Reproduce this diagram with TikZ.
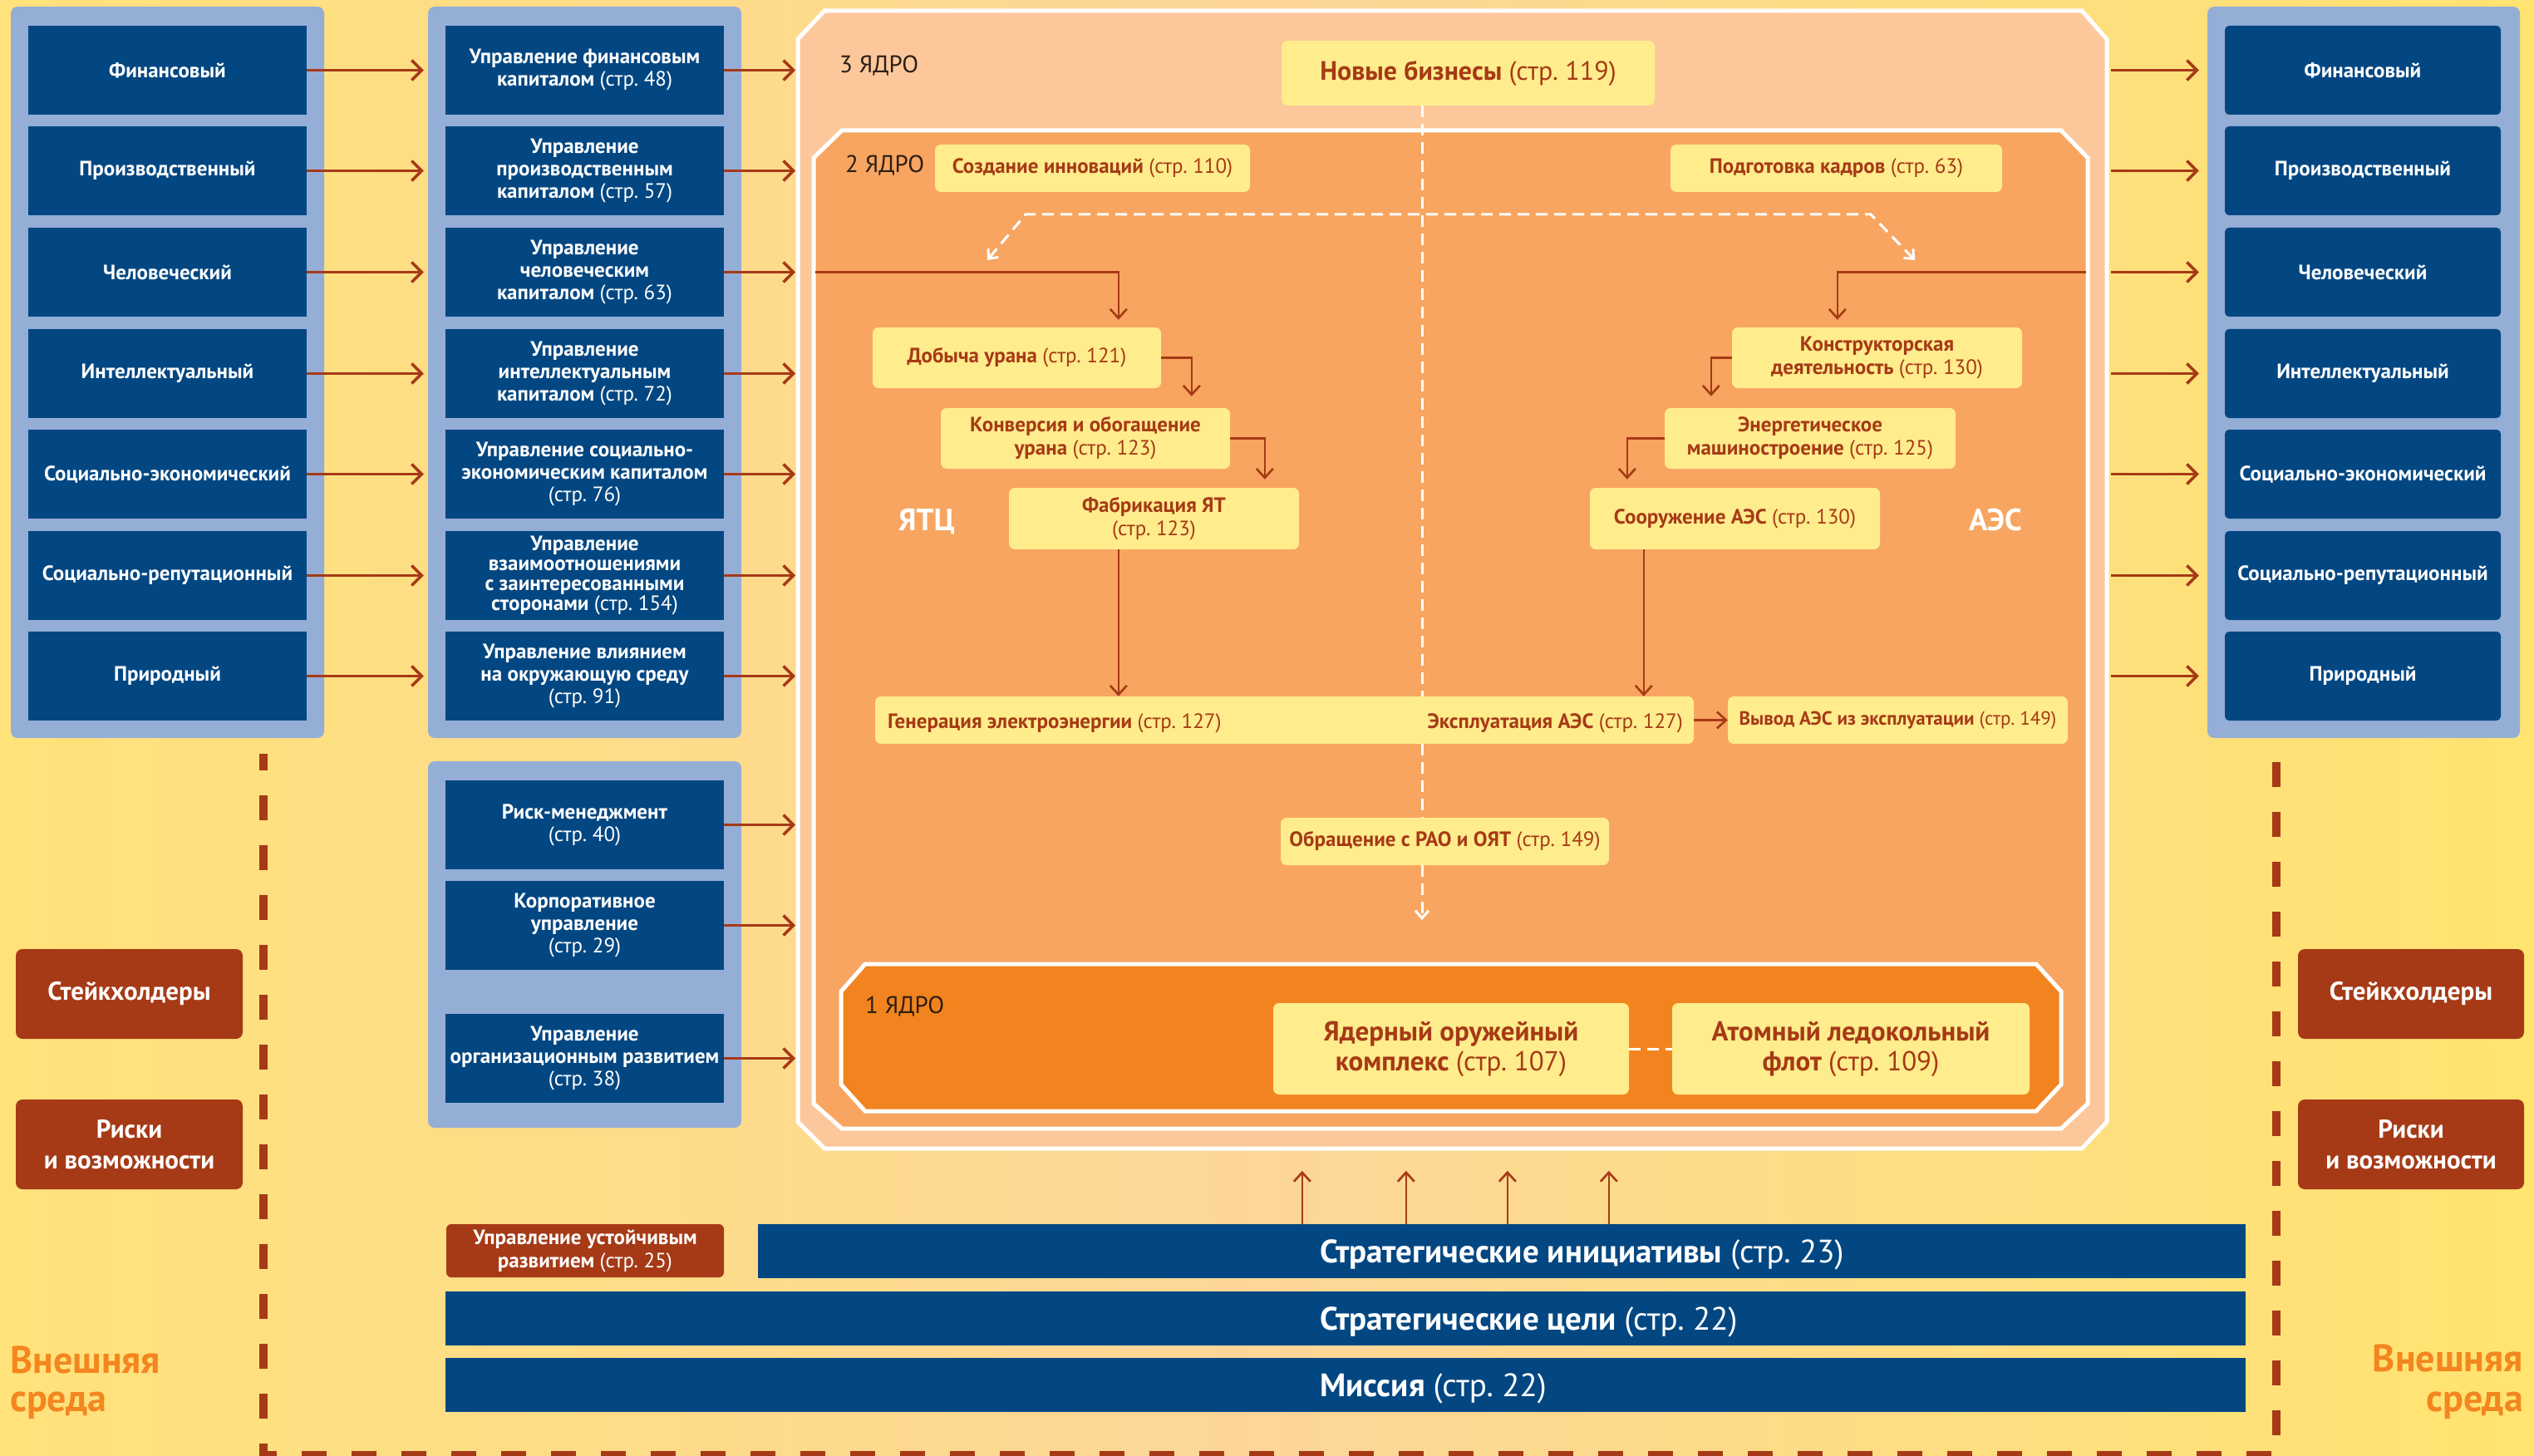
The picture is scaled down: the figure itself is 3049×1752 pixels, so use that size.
\documentclass[tikz,border=0pt]{standalone}
\usepackage{fontspec}
\setmainfont{PT Sans}
\usetikzlibrary{arrows.meta,calc}
\definecolor{navy}{RGB}{3,71,130}
\definecolor{pblue}{RGB}{149,174,214}
\definecolor{brn}{RGB}{166,58,22}
\definecolor{ybox}{RGB}{255,236,141}
\definecolor{core3c}{RGB}{252,200,155}
\definecolor{core2c}{RGB}{247,165,96}
\definecolor{core1c}{RGB}{242,132,31}
\definecolor{orng}{RGB}{244,134,31}
\definecolor{bgy}{RGB}{255,226,122}
\definecolor{bgyr}{RGB}{255,228,112}
\definecolor{bgp}{RGB}{253,214,152}
\definecolor{dtxt}{RGB}{45,30,20}
\newcommand\pgno[1]{\textmd{(стр.~#1)}}
\begin{document}
\begin{tikzpicture}[x=1pt,y=-1pt,
  navybox/.style={fill=navy,text=white,font=\fontsize{25}{27}\selectfont\bfseries,minimum width=335pt,minimum height=107pt,inner sep=0pt,align=center},
  navyr/.style={navybox,minimum width=332pt,rounded corners=5pt},
  ybx/.style={fill=ybox,text=brn,rounded corners=7pt,inner sep=0pt,align=center,font=\fontsize{25}{28}\selectfont\bfseries},
  brnbox/.style={fill=brn,text=white,rounded corners=8pt,inner sep=0pt,align=center,font=\fontsize{31}{37}\selectfont\bfseries,minimum width=273pt,minimum height=108pt},
  bar/.style={fill=navy,inner sep=0pt},
  bartxt/.style={text=white,inner sep=0pt,anchor=base west,font=\fontsize{39}{44}\selectfont\bfseries},
  corelbl/.style={text=dtxt,inner sep=0pt,anchor=base west,font=\fontsize{29}{32}\selectfont},
  extxt/.style={text=orng,font=\fontsize{46}{50}\selectfont\bfseries,inner sep=0pt},
  arr/.style={draw=brn,line width=3.5pt,-{Straight Barb[length=12pt,width=24pt]}},
  arrin/.style={draw=brn,line width=2.6pt,-{Straight Barb[length=11pt,width=20pt]}},
  wdash/.style={draw=white,line width=3pt,dash pattern=on 14pt off 8pt},
  wtip/.tip={Straight Barb[length=9pt,width=16pt]},
  octa/.style={draw=white,line width=5pt,line join=miter}
]
\useasboundingbox (0,0) rectangle (3049,1752);
\shade[left color=bgy,right color=bgyr,middle color=bgp] (0,0) rectangle (3049,1752);

% outer dashed frame
\draw[brn,line width=10pt,dash pattern=on 30pt off 30pt,dash phase=10pt] (317,907) -- (317,1751) -- (2739,1751) -- (2739,907);

% panels
\fill[pblue,rounded corners=8pt] (13,8) rectangle (390,888);
\fill[pblue,rounded corners=8pt] (515,8) rectangle (892,888);
\fill[pblue,rounded corners=8pt] (515,916) rectangle (892,1357);
\fill[pblue,rounded corners=8pt] (2656,8) rectangle (3032,888);

% cores
\draw[octa,fill=core3c] (992,13) -- (2505,13) -- (2535,47) -- (2535,1350) -- (2505,1382) -- (992,1382) -- (960,1350) -- (960,47) -- cycle;
\draw[octa,fill=core2c] (1013,157) -- (2480,157) -- (2512,190) -- (2512,1328) -- (2480,1358) -- (1013,1358) -- (979,1328) -- (979,190) -- cycle;
\draw[octa,fill=core1c] (1041,1160) -- (2450,1160) -- (2480,1193) -- (2480,1305) -- (2450,1337) -- (1041,1337) -- (1012,1305) -- (1012,1193) -- cycle;
\coordinate (c3L) at (957,0);
\coordinate (c3R) at (2540,0);
\coordinate (c2L) at (981,0);
\coordinate (c2R) at (2510,0);
\coordinate (vx) at (1711,0);

\node[corelbl] (k3) at (1010,88) {3 ЯДРО};
\node[corelbl] (k2) at (1017,208) {2 ЯДРО};
\node[corelbl] (k1) at (1041,1219) {1 ЯДРО};

% left column
\node[navybox] (L1) at (201.5,84.5) {Финансовый};
\node[navybox] (L2) at (201.5,205.5) {Производственный};
\node[navybox] (L3) at (201.5,327.5) {Человеческий};
\node[navybox] (L4) at (201.5,449.5) {Интеллектуальный};
\node[navybox] (L5) at (201.5,570.5) {Социально-экономический};
\node[navybox] (L6) at (201.5,692.5) {Социально-репутационный};
\node[navybox] (L7) at (201.5,813.5) {Природный};

% middle column
\node[navybox] (M1) at (703.5,84.5) {Управление финансовым\\капиталом \pgno{48}};
\node[navybox] (M2) at (703.5,205.5) {Управление\\производственным\\капиталом \pgno{57}};
\node[navybox] (M3) at (703.5,327.5) {Управление\\человеческим\\капиталом \pgno{63}};
\node[navybox] (M4) at (703.5,449.5) {Управление\\интеллектуальным\\капиталом \pgno{72}};
\node[navybox] (M5) at (703.5,570.5) {Управление социально-\\экономическим капиталом\\\pgno{76}};
\node[navybox,font=\fontsize{25}{24}\selectfont\bfseries] (M6) at (703.5,692.5) {Управление\\взаимоотношениями\\с заинтересованными\\сторонами \pgno{154}};
\node[navybox] (M7) at (703.5,813.5) {Управление влиянием\\на окружающую среду\\\pgno{91}};

% lower middle
\node[navybox] (Q1) at (703.5,992.5) {Риск-менеджмент\\\pgno{40}};
\node[navybox] (Q2) at (703.5,1113.5) {Корпоративное\\управление\\\pgno{29}};
\node[navybox] (Q3) at (703.5,1273.5) {Управление\\организационным развитием\\\pgno{38}};

% right column
\node[navyr] (P1) at (2843,84.5) {Финансовый};
\node[navyr] (P2) at (2843,205.5) {Производственный};
\node[navyr] (P3) at (2843,327.5) {Человеческий};
\node[navyr] (P4) at (2843,449.5) {Интеллектуальный};
\node[navyr] (P5) at (2843,570.5) {Социально-экономический};
\node[navyr] (P6) at (2843,692.5) {Социально-репутационный};
\node[navyr] (P7) at (2843,813.5) {Природный};

% arrows columns
\foreach \i in {1,...,7}{
  \draw[arr] (L\i.east) -- ([xshift=-26pt]M\i.west);
  \draw[arr] (M\i.east) -- (c3L |- M\i.east);
  \draw[arr] (c3R |- P\i.west) -- ([xshift=-31pt]P\i.west);
}
\foreach \i in {1,2,3}{
  \draw[arr] (Q\i.east) -- (c3L |- Q\i.east);
}

% brown boxes
\node[brnbox] (st1) at (155.5,1196) {Стейкхолдеры};
\node[brnbox] (ri1) at (155.5,1377) {Риски\\и возможности};
\node[brnbox,minimum width=272pt] (st2) at (2901,1196) {Стейкхолдеры};
\node[brnbox,minimum width=272pt] (ri2) at (2901,1377) {Риски\\и возможности};

\node[extxt,anchor=base west] (ex1a) at (12,1652) {Внешняя};
\node[extxt,anchor=base west] (ex1b) at (12,1698) {среда};
\node[extxt,anchor=base east] (ex2a) at (3036,1650) {Внешняя};
\node[extxt,anchor=base east] (ex2b) at (3036,1698) {среда};

% bottom bars
\node[fill=brn,text=white,rounded corners=6pt,inner sep=0pt,align=center,font=\fontsize{25}{28}\selectfont\bfseries,minimum width=334pt,minimum height=64pt] (usr) at (704,1505) {Управление устойчивым\\развитием \pgno{25}};
\node[bar,minimum width=1790pt,minimum height=65pt] (init) at (1807,1505.5) {};
\node[bar,minimum width=2166pt,minimum height=65pt] (goal) at (1619,1586.5) {};
\node[bar,minimum width=2166pt,minimum height=65pt] (miss) at (1619,1666.5) {};
\node[bartxt] (initt) at (1588,1519) {Стратегические инициативы \pgno{23}};
\node[bartxt] (goalt) at (1588,1600) {Стратегические цели \pgno{22}};
\node[bartxt] (misst) at (1588,1680) {Миссия \pgno{22}};
\foreach \dx in {655,780,902,1024}{
  \draw[arrin] ([xshift=\dx pt]init.north west) -- ++(0,-64);
}

% yellow boxes
\node[ybx,minimum width=449pt,minimum height=78pt,font=\fontsize{32}{36}\selectfont\bfseries] (nb) at (1766.5,88) {Новые бизнесы \pgno{119}};
\node[ybx,minimum width=379pt,minimum height=57pt] (cinn) at (1314.5,202.5) {Создание инноваций \pgno{110}};
\node[ybx,minimum width=399pt,minimum height=57pt] (podg) at (2209.5,202.5) {Подготовка кадров \pgno{63}};
\node[ybx,minimum width=347pt,minimum height=73pt] (dob) at (1223.5,430.5) {Добыча урана \pgno{121}};
\node[ybx,minimum width=348pt,minimum height=73pt] (conv) at (1306,527.5) {Конверсия и обогащение\\урана \pgno{123}};
\node[ybx,minimum width=349pt,minimum height=74pt] (fab) at (1388.5,624) {Фабрикация ЯТ\\\pgno{123}};
\node[ybx,minimum width=349pt,minimum height=73pt] (konstr) at (2258.5,430.5) {Конструкторская\\деятельность \pgno{130}};
\node[ybx,minimum width=350pt,minimum height=73pt] (energ) at (2178,527.5) {Энергетическое\\машиностроение \pgno{125}};
\node[ybx,minimum width=349pt,minimum height=74pt] (soor) at (2087.5,624) {Сооружение АЭС \pgno{130}};
\node[ybx,minimum width=985pt,minimum height=57pt] (genbox) at (1545.5,866.5) {};
\node[ybx,anchor=base west] (gent) at (1068,876) {Генерация электроэнергии \pgno{127}};
\node[ybx,anchor=base east] (expl) at (2025,876) {Эксплуатация АЭС \pgno{127}};
\node[ybx,minimum width=409pt,minimum height=57pt,font=\fontsize{23}{26}\selectfont\bfseries] (vyv) at (2283.5,866.5) {Вывод АЭС из эксплуатации \pgno{149}};
\node[ybx,minimum width=395pt,minimum height=57pt] (obr) at (1738.5,1012.5) {Обращение с РАО и ОЯТ \pgno{149}};
\node[ybx,minimum width=428pt,minimum height=110pt,font=\fontsize{33}{36}\selectfont\bfseries] (yaok) at (1746,1262) {Ядерный оружейный\\комплекс \pgno{107}};
\node[ybx,minimum width=430pt,minimum height=110pt,font=\fontsize{33}{36}\selectfont\bfseries] (ledo) at (2227,1262) {Атомный ледокольный\\флот \pgno{109}};

\node[text=white,font=\fontsize{37}{40}\selectfont\bfseries,anchor=base,inner sep=0pt] (ytc) at (1115,638) {ЯТЦ};
\node[text=white,font=\fontsize{37}{40}\selectfont\bfseries,anchor=base,inner sep=0pt] (aes) at (2401,638) {АЭС};

% white dashed connectors
\draw[wdash] (nb.south -| vx) -- (genbox.north -| vx);
\draw[wdash] (genbox.south -| vx) -- (obr.north -| vx);
\coordinate (raoend) at (1711,1107);
\draw[wdash,-wtip] (obr.south -| vx) -- (raoend);
\coordinate (hl) at (1234,258);
\coordinate (hr) at (2251,258);
\coordinate (tl) at (1188,313);
\coordinate (tr) at (2304,313);
\draw[wdash,wtip-wtip] (tl) -- (hl) -- (hr) -- (tr);
\draw[wdash] (yaok.east) -- (ledo.west);

% inner brown connectors
\draw[arrin] (c2L |- M3.east) -| ([xshift=296pt,yshift=9pt]dob.north west);
\draw[arrin] (dob.east) -| ([xshift=302pt,yshift=14pt]conv.north west);
\draw[arrin] (conv.east) -| ([xshift=308pt,yshift=10pt]fab.north west);
\coordinate (fx) at ([xshift=132pt]fab.south west);
\draw[arrin] (fx) -- (fx |- genbox.north);
\draw[arrin] (c2R |- M3.east) -| ([xshift=127pt,yshift=9pt]konstr.north west);
\draw[arrin] (konstr.west) -| ([xshift=56pt,yshift=14pt]energ.north west);
\draw[arrin] (energ.west) -| ([xshift=45pt,yshift=10pt]soor.north west);
\coordinate (sx) at ([xshift=65pt]soor.south west);
\draw[arrin] (sx) -- (sx |- genbox.north);
\draw[arrin] (genbox.east) -- (vyv.west);
\end{tikzpicture}
\end{document}
